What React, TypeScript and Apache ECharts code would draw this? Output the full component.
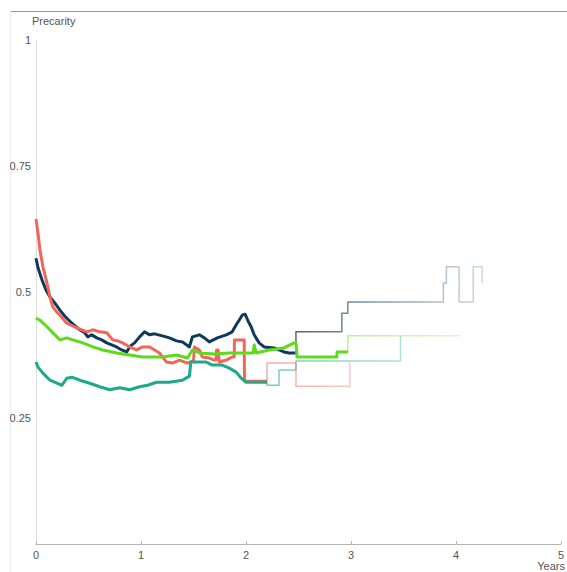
import React, { useEffect, useRef } from "react";
import * as echarts from "echarts";

// [years, precarity]
const navyEarly: [number, number][] = [
  [0, 0.567], [0.019, 0.548], [0.057, 0.524], [0.095, 0.504], [0.133, 0.49], [0.18, 0.478],
  [0.228, 0.464], [0.275, 0.452], [0.323, 0.442], [0.37, 0.433], [0.417, 0.425], [0.465, 0.419],
  [0.493, 0.411], [0.531, 0.415], [0.579, 0.409], [0.626, 0.405], [0.674, 0.399], [0.721, 0.395],
  [0.768, 0.391], [0.816, 0.385], [0.863, 0.381], [0.901, 0.393], [0.939, 0.399], [0.987, 0.411],
  [1.034, 0.421], [1.082, 0.415], [1.129, 0.417], [1.205, 0.413], [1.271, 0.409], [1.338, 0.403],
  [1.395, 0.401], [1.461, 0.391], [1.49, 0.411], [1.556, 0.415], [1.603, 0.409], [1.651, 0.401],
  [1.727, 0.409], [1.812, 0.415], [1.869, 0.421], [1.907, 0.435], [1.935, 0.444], [1.964, 0.454],
  [1.992, 0.456], [2.021, 0.442], [2.049, 0.431], [2.078, 0.415], [2.125, 0.399], [2.173, 0.391],
  [2.268, 0.389], [2.362, 0.381], [2.41, 0.379], [2.476, 0.379],
];
const navyLate: [number, number][] = [
  [2.476, 0.421], [2.913, 0.458], [2.97, 0.48], [3.88, 0.518], [3.909, 0.55], [4.03, 0.48],
  [4.165, 0.55], [4.25, 0.518],
];

const redEarly: [number, number][] = [
  [0, 0.645], [0.019, 0.617], [0.038, 0.583], [0.066, 0.55], [0.104, 0.518], [0.133, 0.49],
  [0.161, 0.47], [0.199, 0.46], [0.228, 0.454], [0.294, 0.438], [0.389, 0.429], [0.484, 0.421],
  [0.541, 0.425], [0.607, 0.421], [0.674, 0.419], [0.731, 0.405], [0.778, 0.403], [0.825, 0.399],
  [0.892, 0.391], [0.958, 0.385], [1.015, 0.391], [1.082, 0.391], [1.176, 0.379], [1.243, 0.361],
  [1.3, 0.359], [1.366, 0.365], [1.442, 0.359], [1.5, 0.363], [1.509, 0.391], [1.556, 0.385],
  [1.584, 0.371], [1.651, 0.369], [1.698, 0.365], [1.715, 0.365], [1.72, 0.385], [1.735, 0.385],
  [1.746, 0.361], [1.812, 0.365], [1.869, 0.371], [1.888, 0.371], [1.89, 0.405], [1.983, 0.405],
  [1.986, 0.323], [2.201, 0.323],
];
const redLate: [number, number][] = [[2.201, 0.359], [2.476, 0.313], [2.989, 0.361]];

const greenEarly: [number, number][] = [
  [0, 0.448], [0.038, 0.444], [0.076, 0.437], [0.104, 0.431], [0.161, 0.419], [0.228, 0.405],
  [0.294, 0.409], [0.351, 0.405], [0.446, 0.399], [0.541, 0.391], [0.636, 0.385], [0.768, 0.379],
  [0.892, 0.375], [1.015, 0.371], [1.205, 0.371], [1.338, 0.375], [1.442, 0.369], [1.49, 0.385],
  [1.556, 0.379], [1.698, 0.377], [1.841, 0.379], [2.068, 0.379], [2.078, 0.395], [2.097, 0.379],
  [2.22, 0.385], [2.362, 0.389], [2.457, 0.399], [2.476, 0.399], [2.486, 0.371], [2.865, 0.371],
  [2.868, 0.381], [2.97, 0.381],
];
const greenLate: [number, number][] = [[2.97, 0.413], [4.042, 0.413]];

const tealEarly: [number, number][] = [
  [0, 0.361], [0.019, 0.351], [0.066, 0.339], [0.133, 0.325], [0.199, 0.319], [0.247, 0.315],
  [0.294, 0.329], [0.342, 0.331], [0.417, 0.325], [0.512, 0.319], [0.607, 0.312], [0.702, 0.306],
  [0.797, 0.31], [0.892, 0.306], [0.987, 0.312], [1.063, 0.315], [1.148, 0.321], [1.271, 0.321],
  [1.395, 0.325], [1.461, 0.333], [1.475, 0.361], [1.622, 0.361], [1.679, 0.355], [1.774, 0.355],
  [1.841, 0.349], [1.907, 0.341], [1.954, 0.329], [2.002, 0.321], [2.201, 0.321],
];
const tealLate: [number, number][] = [[2.201, 0.315], [2.315, 0.345], [2.476, 0.363], [3.472, 0.413]];

const xTicks = [0, 1, 2, 3, 4, 5];
const yTicks = [0.25, 0.5, 0.75, 1];

const FONT = "'Liberation Sans', Arial, sans-serif";

function fade(rgb: string, a0: number, a1: number) {
  return new echarts.graphic.LinearGradient(0, 0, 1, 0, [
    { offset: 0, color: `rgba(${rgb},${a0})` },
    { offset: 1, color: `rgba(${rgb},${a1})` },
  ]);
}

function line(name: string, data: [number, number][], color: any, width: number, z: number, step: any) {
  return {
    name,
    type: "line",
    data,
    step,
    symbol: "none",
    showSymbol: false,
    silent: true,
    z,
    lineStyle: { color, width, join: "round" },
  };
}

export default function App() {
  const ref = useRef<HTMLDivElement>(null);
  useEffect(() => {
    const chart = echarts.init(ref.current!, null, { renderer: "svg" });
    const late = (early: [number, number][], rest: [number, number][]) => [early[early.length - 1], ...rest];
    chart.setOption({
      animation: false,
      grid: { left: 36, right: 4, top: 40, bottom: 28 },
      xAxis: {
        type: "value",
        min: 0,
        max: 5,
        interval: 1,
        axisLine: { lineStyle: { color: "#b5b5b5", width: 1 } },
        axisTick: { show: true, inside: true, length: 3, lineStyle: { color: "#b5b5b5" } },
        axisLabel: {
          color: "#555",
          fontFamily: FONT,
          fontSize: 11,
          margin: 5,
          formatter: (v: number) => (xTicks.includes(v) ? String(v) : ""),
        },
        splitLine: { show: false },
      },
      yAxis: {
        type: "value",
        min: 0,
        max: 1,
        interval: 0.25,
        axisLine: { show: true, lineStyle: { color: "#dcdcdc", width: 1 } },
        axisTick: { show: false },
        axisLabel: {
          color: "#555",
          fontFamily: FONT,
          fontSize: 11,
          margin: 5,
          formatter: (v: number) => (yTicks.includes(v) ? String(v) : ""),
        },
        splitLine: { show: false },
      },
      graphic: [
        { type: "line", shape: { x1: 10, y1: 11.5, x2: 567, y2: 11.5 }, style: { stroke: "#9a9a9a", lineWidth: 1 } },
        { type: "line", shape: { x1: 10.5, y1: 11, x2: 10.5, y2: 572 }, style: { stroke: "#ececec", lineWidth: 1 } },
        {
          type: "text",
          left: 32,
          top: 15,
          style: { text: "Precarity", fill: "#555", font: `11px ${FONT}` },
        },
        {
          type: "text",
          right: 2,
          top: 560,
          style: { text: "Years", fill: "#555", font: `11px ${FONT}` },
        },
      ],
      series: [
        line("teal-late", late(tealEarly, tealLate), fade("30,169,138", 0.6, 0.35), 1.5, 2, "end"),
        line("red-late", late(redEarly, redLate), fade("240,100,88", 0.55, 0.35), 1.5, 2, "end"),
        line("navy-late", late(navyEarly, navyLate), fade("14,58,90", 0.75, 0.2), 1.5, 2, "end"),
        line("green-late", late(greenEarly, greenLate), fade("102,220,30", 0.45, 0.2), 1.5, 2, "end"),
        line("navy", navyEarly, "#0e3a5a", 3, 3, false),
        line("red", redEarly, "#f2665a", 3, 3, false),
        line("teal", tealEarly, "#1ea98a", 3, 3, false),
        line("green", greenEarly, "#5fd91c", 3, 4, false),
      ],
    });
    return () => chart.dispose();
  }, []);
  return <div ref={ref} style={{ position: "absolute", left: 0, top: 0, width: 567, height: 572 }} />;
}
